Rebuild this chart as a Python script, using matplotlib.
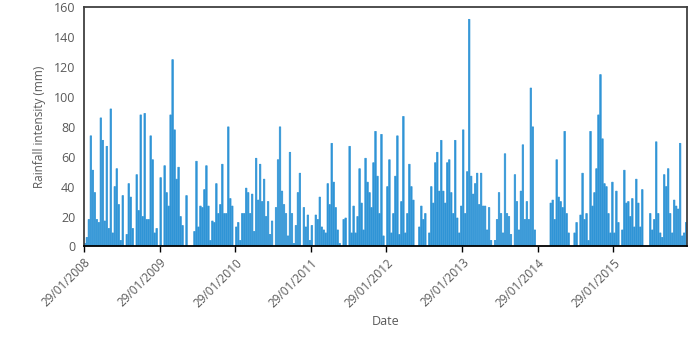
import matplotlib
matplotlib.use("Agg")
import matplotlib.pyplot as plt
import matplotlib.dates as mdates
import numpy as np
import pandas as pd

# rainfall intensity (mm), evenly spread over each
# hydrological year that starts on 29 January
rain_2008 = [2, 6, 18, 74, 51, 36, 18, 16, 86, 71, 17, 67, 12, 92, 9, 40, 52, 28, 4,
             34, 0, 8, 42, 33, 12, 0, 48, 24, 88, 20, 89, 18, 18, 74, 58, 9, 12, 0]
rain_2009 = [46, 0, 54, 36, 27, 88, 125, 78, 45, 53, 20, 14, 0, 34, 0, 0, 0, 10, 57,
             13, 27, 26, 38, 54, 27, 4, 17, 16, 42, 22, 28, 55, 22, 22, 80, 32, 27, 0]
rain_2010 = [13, 16, 4, 22, 22, 39, 36, 22, 35, 10, 59, 31, 55, 30, 45, 20, 30, 8, 17,
             0, 26, 58, 80, 37, 28, 22, 7, 63, 22, 2, 14, 36, 49, 0, 26, 13, 21, 4]
rain_2011 = [14, 0, 21, 18, 33, 13, 11, 9, 42, 28, 69, 43, 26, 11, 2, 0, 18, 19, 0,
             67, 9, 27, 9, 20, 52, 29, 11, 59, 43, 36, 26, 56, 77, 47, 22, 75, 7, 0]
rain_2012 = [40, 58, 9, 22, 47, 74, 8, 30, 87, 9, 22, 55, 40, 31, 0, 0, 13, 27, 18,
             22, 0, 9, 40, 29, 56, 63, 37, 71, 37, 29, 56, 58, 36, 22, 71, 19, 9, 27]
rain_2013 = [78, 22, 50, 152, 47, 35, 42, 49, 28, 49, 27, 27, 11, 26, 4, 0, 4, 18, 36,
             22, 9, 62, 22, 20, 8, 0, 48, 30, 11, 37, 68, 18, 30, 18, 106, 80, 11, 0]
rain_2014 = [0, 0, 0, 0, 0, 0, 29, 31, 18, 58, 33, 30, 26, 77, 22, 9, 0, 0, 9,
             16, 0, 21, 49, 18, 22, 4, 77, 27, 36, 52, 88, 115, 72, 42, 40, 22, 9, 43]
rain_2015 = [9, 37, 16, 0, 11, 51, 29, 30, 20, 32, 13, 45, 29, 13, 38, 0, 0, 0, 22,
             11, 18, 70, 22, 9, 6, 48, 40, 52, 22, 9, 31, 27, 25, 69, 7, 9, 16]

year_lists = [rain_2008, rain_2009, rain_2010, rain_2011,
              rain_2012, rain_2013, rain_2014, rain_2015]
year_starts = pd.to_datetime(["2008-01-29", "2009-01-29", "2010-01-29", "2011-01-29",
                              "2012-01-29", "2013-01-29", "2014-01-29", "2015-01-29"])
series_end = pd.Timestamp("2016-01-20")

BAR_COLOR = "#2f94d6"
TEXT_COLOR = "#595959"


def build_series():
    dates, values, widths = [], [], []
    bounds = list(year_starts) + [series_end]
    for k, vals in enumerate(year_lists):
        span = bounds[k + 1] - bounds[k]
        step = span / len(vals)
        for i, v in enumerate(vals):
            dates.append(bounds[k] + step * (i + 0.5))
            values.append(v)
            widths.append(step.days * 0.8)
    return pd.to_datetime(dates), np.array(values, dtype=float), np.array(widths)


def main():
    plt.rcParams["font.family"] = ["Open Sans", "DejaVu Sans"]
    fig = plt.figure(figsize=(6.99, 3.51), dpi=100)
    ax = fig.add_axes([0.120, 0.298, 0.863, 0.681])

    dates, values, widths = build_series()
    ax.bar(dates, values, width=widths, color=BAR_COLOR, edgecolor=BAR_COLOR,
           linewidth=0.5, align="center", snap=False)

    ax.set_xlim(year_starts[0], series_end)
    ax.set_ylim(0, 160)
    ax.set_yticks(np.arange(0, 161, 20))
    ax.set_xticks(year_starts)
    ax.xaxis.set_major_formatter(mdates.DateFormatter("%d/%m/%Y"))

    for lbl in ax.get_xticklabels():
        lbl.set_rotation(45)
        lbl.set_ha("right")
        lbl.set_rotation_mode("anchor")

    ax.tick_params(axis="y", length=0, labelsize=9, colors=TEXT_COLOR, pad=6)
    ax.tick_params(axis="x", length=4, width=1, direction="out", labelsize=8.5,
                   labelcolor=TEXT_COLOR, color="black", pad=3)

    for side in ["top", "right", "left"]:
        ax.spines[side].set_color("#404040")
        ax.spines[side].set_linewidth(1.3)
    ax.spines["bottom"].set_color("black")
    ax.spines["bottom"].set_linewidth(1.3)

    ax.set_ylabel("Rainfall intensity (mm)", fontsize=8.5, color=TEXT_COLOR, labelpad=6)
    ax.set_xlabel("Date", fontsize=9, color=TEXT_COLOR, labelpad=4)

    fig.savefig("out.png", dpi=100)
    plt.close(fig)


if __name__ == "__main__":
    main()
